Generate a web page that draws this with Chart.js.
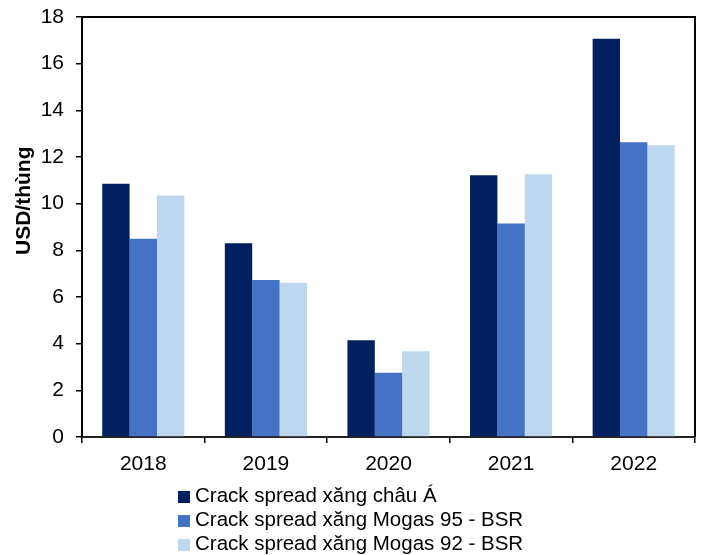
<!DOCTYPE html>
<html>
<head>
<meta charset="utf-8">
<script src="https://cdn.jsdelivr.net/npm/chart.js@4/dist/chart.umd.min.js"></script>
<style>
  html, body { margin: 0; padding: 0; background: #fff; }
  #wrap { position: relative; width: 701px; height: 555px; }
  #legend { position: absolute; left: 178px; top: 483px; font-family: "Liberation Sans", Arial, sans-serif; font-size: 20.5px; color: #000; }
  #legend div { height: 24px; line-height: 24px; white-space: nowrap; }
  #legend span.box { display: inline-block; width: 12px; height: 12px; margin-right: 5px; vertical-align: -1px; }
</style>
</head>
<body>
<div id="wrap">
  <canvas id="chart" width="701" height="555"></canvas>
  <div id="legend"></div>
</div>
<script>
// du lieu doc tu hinh
const nam = ['2018', '2019', '2020', '2021', '2022'];
const chauA = [10.85, 8.3, 4.15, 11.22, 17.07];
const mogas95 = [8.5, 6.73, 2.75, 9.15, 12.63];
const mogas92 = [10.35, 6.61, 3.68, 11.26, 12.5];
const tenSeries = ['Crack spread xăng châu Á', 'Crack spread xăng Mogas 95 - BSR', 'Crack spread xăng Mogas 92 - BSR'];
const mau = ['#002060', '#4472C4', '#BDD7EE'];

const font = '"Liberation Sans", Arial, sans-serif';

// khung quanh vung ve
const khung = {
    id: 'khung',
    afterDraw(chart) {
        const a = chart.chartArea;
        const ctx = chart.ctx;
        ctx.save();
        ctx.strokeStyle = '#000';
        ctx.lineWidth = 2;
        ctx.beginPath();
        ctx.moveTo(a.left, a.top);
        ctx.lineTo(a.right, a.top);
        ctx.lineTo(a.right, a.bottom);
        ctx.stroke();
        ctx.restore();
    }
};

const chart = new Chart(document.getElementById('chart'), {
    type: 'bar',
    data: {
        labels: nam,
        datasets: [
            { label: tenSeries[0], data: chauA, backgroundColor: mau[0] },
            { label: tenSeries[1], data: mogas95, backgroundColor: mau[1] },
            { label: tenSeries[2], data: mogas92, backgroundColor: mau[2] }
        ]
    },
    options: {
        responsive: false,
        animation: false,
        layout: { padding: { top: 17, right: 6, bottom: 73, left: 0 } },
        datasets: { bar: { categoryPercentage: 0.67, barPercentage: 1.0 } },
        plugins: {
            legend: { display: false },
            tooltip: { enabled: false }
        },
        scales: {
            x: {
                grid: { offset: true, drawOnChartArea: false, tickLength: 6, color: '#000', lineWidth: 1.5 },
                border: { color: '#222', width: 2 },
                ticks: { color: '#000', font: { family: font, size: 21 }, padding: 9 },
                afterFit(s) { s.height = 45; s.paddingLeft = 0; s.paddingRight = 0; }
            },
            y: {
                min: 0,
                max: 18,
                ticks: { stepSize: 2, color: '#000', font: { family: font, size: 21 }, padding: 12 },
                grid: { drawOnChartArea: false, tickLength: 6, color: '#000', lineWidth: 1.5 },
                border: { color: '#000', width: 2 },
                title: {
                    display: true,
                    // khoang trang dau de day chu len tren nhu hinh goc
                    text: '         USD/thùng',
                    color: '#000',
                    font: { family: font, size: 21, weight: 'bold' },
                    padding: { top: 12, bottom: 0 }
                },
                afterFit(s) { s.width = 82; s.paddingTop = 0; s.paddingBottom = 0; }
            }
        }
    },
    plugins: [khung]
});

// chu giai dang HTML
const legend = document.getElementById('legend');
chart.data.datasets.forEach(ds => {
    const row = document.createElement('div');
    const box = document.createElement('span');
    box.className = 'box';
    box.style.background = ds.backgroundColor;
    row.appendChild(box);
    row.appendChild(document.createTextNode(ds.label));
    legend.appendChild(row);
});
</script>
</body>
</html>
